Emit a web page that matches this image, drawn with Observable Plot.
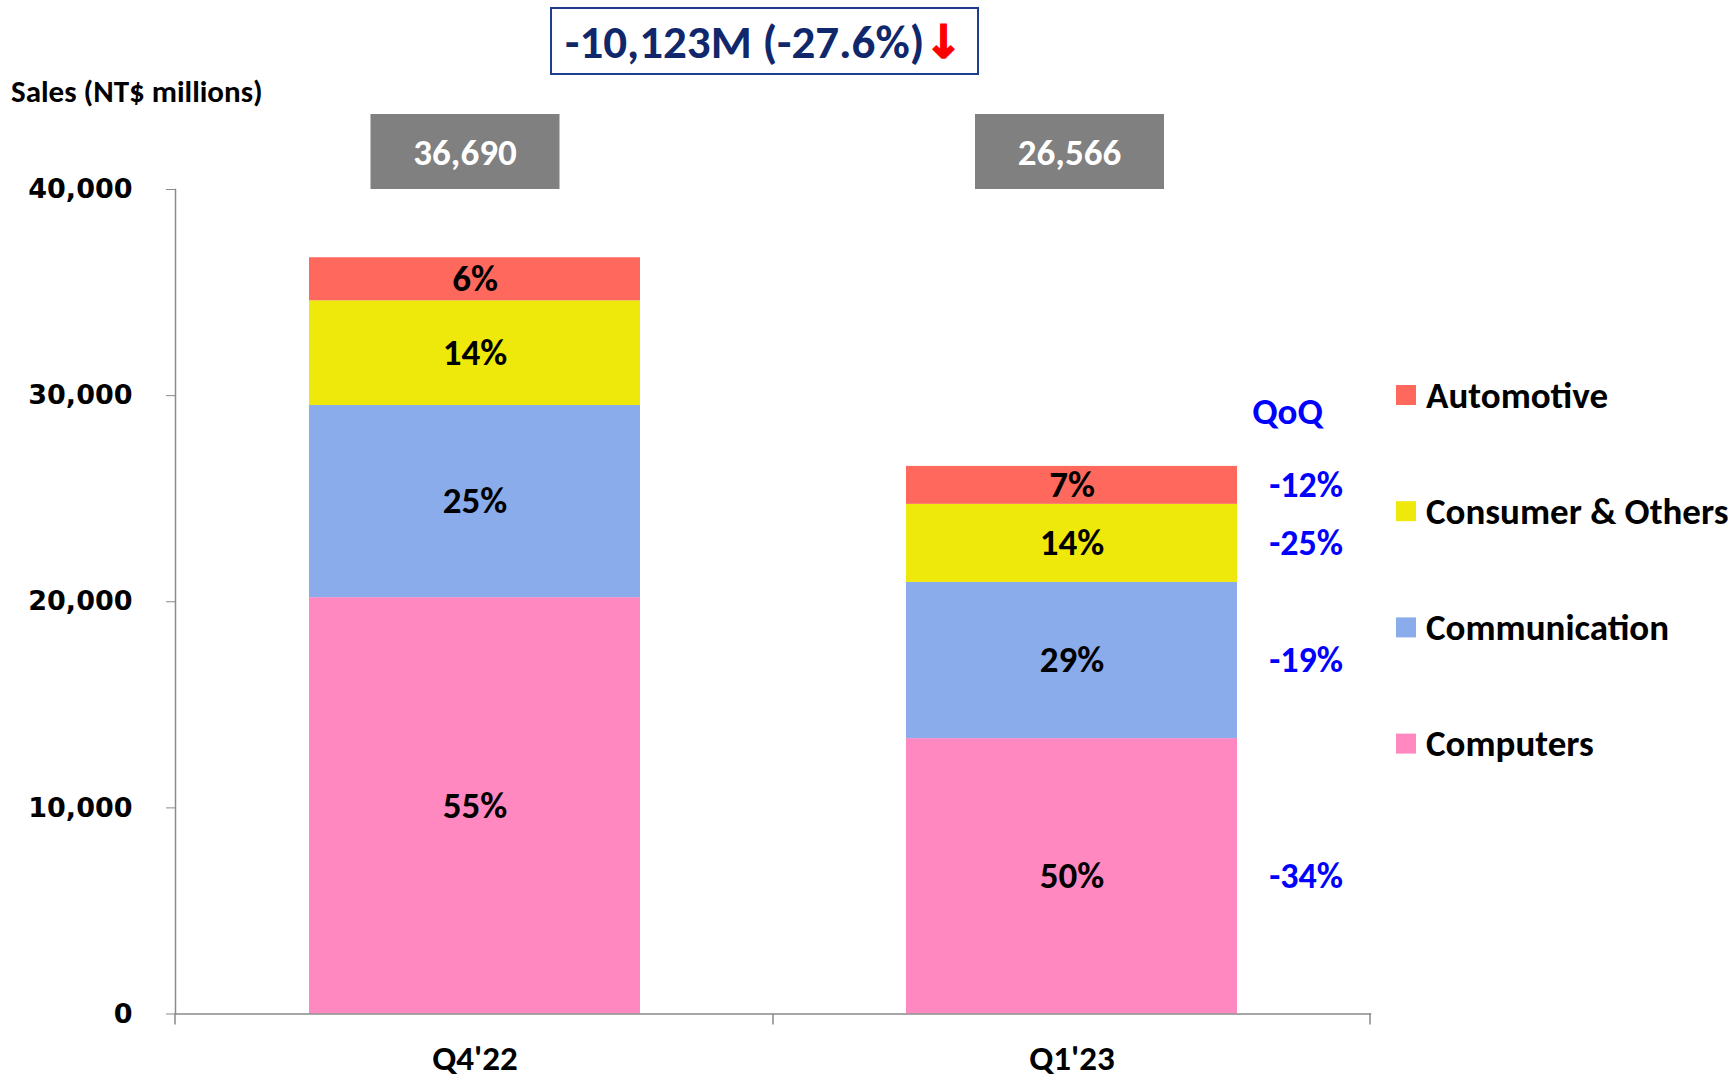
<!DOCTYPE html>
<html><head><meta charset="utf-8">
<script src="https://cdn.jsdelivr.net/npm/d3@7"></script>
<script src="https://cdn.jsdelivr.net/npm/@observablehq/plot@0.6"></script>
<style>html,body{margin:0;padding:0;background:#fff;}</style>
</head><body><div id="chart"></div>
<script>
// ---- data ----
const quarters = ["Q4'22", "Q1'23"];
const segments = ["Computers", "Communication", "Consumer & Others", "Automotive"];
const q4Values = [20200, 9320, 5080, 2090];
const q1Values = [13360, 7580, 3786, 1840];
const q4Shares = ["55%", "25%", "14%", "6%"];
const q1Shares = ["50%", "29%", "14%", "7%"];
const qoqLabels = ["-34%", "-19%", "-25%", "-12%"];
const totals = [36690, 26566];
const totalLabels = ["36,690", "26,566"];
const changeLabel = "-10,123M (-27.6%)";
const yTicks = [0, 10000, 20000, 30000, 40000];
const segColors = ["#FF88C0", "#8BACEB", "#EEE80B", "#FF695D"];
const legendOrder = ["Automotive", "Consumer & Others", "Communication", "Computers"];

const rows = [];
[q4Values, q1Values].forEach((vals, qi) => {
  vals.forEach((v, si) => rows.push({
    quarter: quarters[qi], segment: segments[si], value: v,
    share: [q4Shares, q1Shares][qi][si],
    qoq: qi === 1 ? qoqLabels[si] : null
  }));
});

const W = 1735, H = 1079;
const LBL = "Carlito, Calibri, Lato, sans-serif";

const chart = Plot.plot({
  width: W, height: H,
  marginLeft: 175, marginRight: 365, marginTop: 189, marginBottom: 65.5,
  style: {background: "white", fontFamily: LBL, color: "black"},
  x: {domain: quarters, paddingInner: 0.446, paddingOuter: 0.223, axis: null},
  y: {domain: [0, 40000], axis: null},
  color: {domain: segments, range: segColors},
  marks: [
    Plot.barY(rows, {x: "quarter", y: "value", fill: "segment", order: segments}),
    Plot.text(rows, Plot.stackY({x: "quarter", y: "value", z: "segment", order: segments,
      text: "share", fontSize: 37, fontWeight: "bold", fill: "black", fontFamily: LBL})),
    Plot.text(rows.filter(d => d.qoq), Plot.stackY({x: "quarter", y: "value", z: "segment", order: segments,
      text: "qoq", dx: 234, fill: "#0000FF", fontSize: 36, fontWeight: "bold", fontFamily: LBL})),
    Plot.frame({anchor: "left", stroke: "#8a8a8a", strokeWidth: 1.5}),
    Plot.frame({anchor: "bottom", stroke: "#8a8a8a", strokeWidth: 1.5}),
    Plot.axisY({ticks: yTicks, tickFormat: d3.format(","), tickSize: 9, tickPadding: 34, label: null,
      stroke: "#8a8a8a", fill: "black", fontSize: 27, fontWeight: "bold", fontFamily: "DejaVu Sans"}),
    Plot.axisX({tickSize: 0, tickPadding: 31, label: null, fontSize: 35, fontWeight: "bold", fontFamily: LBL, fill: "black"})
  ]
});

const svg = d3.select(chart);
const xs = chart.scale("x");
const cs = chart.scale("color");
const bw = xs.bandwidth;
const centers = quarters.map(q => xs.apply(q) + bw / 2);
const y0 = chart.scale("y").apply(0);

// category boundary ticks on the x axis
const bounds = [xs.range[0], (xs.apply(quarters[0]) + bw + xs.apply(quarters[1])) / 2, xs.range[1]];
svg.append("g").selectAll("line").data(bounds).join("line")
  .attr("x1", d => d).attr("x2", d => d).attr("y1", y0).attr("y2", y0 + 11)
  .attr("stroke", "#8a8a8a").attr("stroke-width", 1.5);

// total boxes
const boxShift = [-9.5, -2];
const tg = svg.append("g");
totals.forEach((t, i) => {
  const cx = centers[i] + boxShift[i];
  tg.append("rect").attr("x", cx - 94.5).attr("y", 114).attr("width", 189).attr("height", 75)
    .attr("fill", "#808080");
  tg.append("text").attr("x", cx).attr("y", 152).attr("text-anchor", "middle")
    .attr("dominant-baseline", "central").attr("fill", "white")
    .attr("font-family", LBL).attr("font-weight", "bold").attr("font-size", 37).text(totalLabels[i]);
});

// y-axis title
svg.append("text").attr("x", 11).attr("y", 91).attr("text-anchor", "start").attr("dominant-baseline", "central")
  .attr("font-family", LBL).attr("font-weight", "bold").attr("font-size", 31).attr("fill", "black")
  .text("Sales (NT$ millions)");

// change annotation
svg.append("rect").attr("x", 551).attr("y", 8).attr("width", 427).attr("height", 66)
  .attr("fill", "white").attr("stroke", "#1F3D8F").attr("stroke-width", 2);
const ct = svg.append("text").attr("x", 764).attr("y", 42).attr("text-anchor", "middle")
  .attr("dominant-baseline", "central").attr("font-weight", "bold");
ct.append("tspan").attr("font-family", LBL).attr("font-size", 47).attr("fill", "#10286B").text(changeLabel);
ct.append("tspan").attr("font-family", "DejaVu Sans").attr("font-size", 46).attr("fill", "#FF0000")
  .attr("stroke", "#FF0000").attr("stroke-width", 1.5).text("\u2193");

// QoQ header
svg.append("text").attr("x", centers[1] + 216).attr("y", 411).attr("text-anchor", "middle")
  .attr("dominant-baseline", "central").attr("font-family", LBL).attr("font-weight", "bold")
  .attr("font-size", 37).attr("fill", "#0000FF").text("QoQ");

// legend
const lg = svg.append("g");
legendOrder.forEach((s, i) => {
  const cy = 395 + i * 116.2;
  lg.append("rect").attr("x", 1396).attr("y", cy - 10).attr("width", 20).attr("height", 20).attr("fill", cs.apply(s));
  lg.append("text").attr("x", 1426).attr("y", cy).attr("text-anchor", "start").attr("dominant-baseline", "central")
    .attr("font-family", LBL).attr("font-weight", "bold").attr("font-size", 37).attr("fill", "black").text(s);
});

document.getElementById("chart").appendChild(chart);
</script>
</body></html>
